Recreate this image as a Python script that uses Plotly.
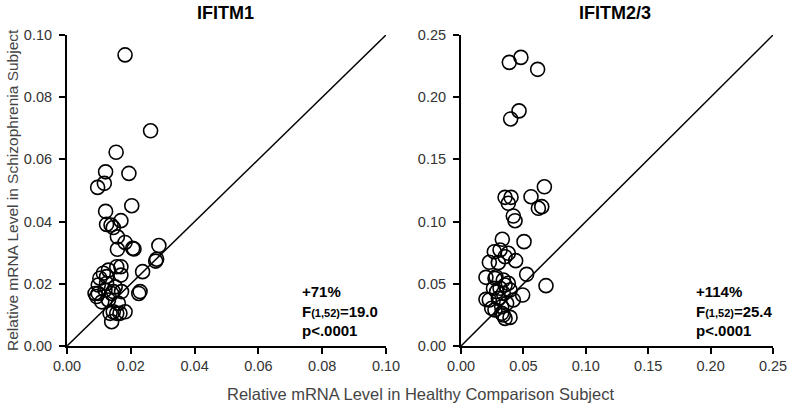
import plotly.graph_objects as go

# IFITM1 (healthy comparison, schizophrenia)
healthy_ifitm1 = [0.0182, 0.0262, 0.0154, 0.0121, 0.0194, 0.0096, 0.0117, 0.0203, 0.0121, 0.0169,
                  0.0124, 0.0138, 0.0145, 0.0158, 0.0182, 0.0158, 0.0206, 0.0210, 0.0288, 0.0281,
                  0.0278, 0.0237, 0.0156, 0.0169, 0.0114, 0.0130, 0.0169, 0.0103, 0.0124, 0.0124,
                  0.0098, 0.0151, 0.0229, 0.0225, 0.0088, 0.0098, 0.0119, 0.0145, 0.0171, 0.0109,
                  0.0161, 0.0130, 0.0135, 0.0145, 0.0156, 0.0182, 0.0140, 0.0166, 0.0093, 0.0140]
schizo_ifitm1 = [0.0936, 0.0692, 0.0623, 0.0560, 0.0555, 0.0510, 0.0523, 0.0451, 0.0433, 0.0403,
                 0.0391, 0.0389, 0.0381, 0.0351, 0.0333, 0.0311, 0.0314, 0.0312, 0.0323, 0.0279,
                 0.0273, 0.0239, 0.0255, 0.0255, 0.0234, 0.0244, 0.0228, 0.0218, 0.0223, 0.0201,
                 0.0196, 0.0190, 0.0175, 0.0169, 0.0169, 0.0169, 0.0180, 0.0175, 0.0175, 0.0142,
                 0.0137, 0.0148, 0.0105, 0.0110, 0.0105, 0.0110, 0.0078, 0.0105, 0.0159, 0.0169]

# IFITM2/3
healthy_ifitm23 = [0.0387, 0.0480, 0.0614, 0.0465, 0.0398, 0.0668, 0.0561, 0.0353, 0.0401, 0.0379,
                   0.0620, 0.0647, 0.0419, 0.0433, 0.0331, 0.0505, 0.0267, 0.0313, 0.0379, 0.0353,
                   0.0227, 0.0299, 0.0438, 0.0526, 0.0200, 0.0280, 0.0681, 0.0494, 0.0200, 0.0227,
                   0.0419, 0.0272, 0.0353, 0.0393, 0.0326, 0.0313, 0.0353, 0.0379, 0.0286, 0.0339,
                   0.0299, 0.0366, 0.0326, 0.0260, 0.0393, 0.0339, 0.0272, 0.0339, 0.0246]
schizo_ifitm23 = [0.2280, 0.2320, 0.2224, 0.1890, 0.1825, 0.1280, 0.1200, 0.1195, 0.1195, 0.1147,
                  0.1107, 0.1120, 0.1045, 0.1007, 0.0858, 0.0839, 0.0758, 0.0772, 0.0745, 0.0718,
                  0.0673, 0.0670, 0.0686, 0.0576, 0.0552, 0.0557, 0.0485, 0.0410, 0.0375, 0.0370,
                  0.0370, 0.0290, 0.0222, 0.0230, 0.0263, 0.0464, 0.0490, 0.0504, 0.0437, 0.0424,
                  0.0383, 0.0343, 0.0316, 0.0464, 0.0450, 0.0530, 0.0544, 0.0249, 0.0303]

range1 = [0, 0.10]
range23 = [0, 0.25]
ticks1 = [0, 0.02, 0.04, 0.06, 0.08, 0.10]
ticks23 = [0, 0.05, 0.10, 0.15, 0.20, 0.25]

W, H = 800, 407
FONT = "Arial, Liberation Sans, sans-serif"

fig = go.Figure()

marker = dict(symbol="circle-open", size=14, color="black", line=dict(width=1.6, color="black"))

fig.add_trace(go.Scatter(x=range1, y=range1, mode="lines", line=dict(color="black", width=1.5),
                         xaxis="x", yaxis="y", showlegend=False, hoverinfo="skip"))
fig.add_trace(go.Scatter(x=healthy_ifitm1, y=schizo_ifitm1, mode="markers", marker=marker,
                         xaxis="x", yaxis="y", showlegend=False))
fig.add_trace(go.Scatter(x=range23, y=range23, mode="lines", line=dict(color="black", width=1.5),
                         xaxis="x2", yaxis="y2", showlegend=False, hoverinfo="skip"))
fig.add_trace(go.Scatter(x=healthy_ifitm23, y=schizo_ifitm23, mode="markers", marker=marker,
                         xaxis="x2", yaxis="y2", showlegend=False))

ydom = [(H - 346) / H, (H - 35) / H]
axis_common = dict(showline=True, linecolor="black", linewidth=2, ticks="outside", ticklen=6,
                   tickwidth=1.5, tickcolor="black", showgrid=False, zeroline=False,
                   automargin=False, tickformat=".2f",
                   tickfont=dict(family=FONT, size=14.5, color="#333333"))

fig.update_layout(
    width=W, height=H,
    margin=dict(l=0, r=0, t=0, b=0, pad=0, autoexpand=False),
    paper_bgcolor="white", plot_bgcolor="white",
    xaxis=dict(domain=[67 / W, 386 / W], range=range1, tickvals=ticks1, anchor="y", **axis_common),
    yaxis=dict(domain=ydom, range=range1, tickvals=ticks1, anchor="x", ticklabelstandoff=4,
               **axis_common),
    xaxis2=dict(domain=[461 / W, 773 / W], range=range23, tickvals=ticks23, anchor="y2", **axis_common),
    yaxis2=dict(domain=ydom, range=range23, tickvals=ticks23, anchor="x2", ticklabelstandoff=4,
                **axis_common),
)

def py(pix):
    return 1 - pix / H

ann = []
ann.append(dict(text="<b>IFITM1</b>", x=225 / W, y=py(13), xref="paper", yref="paper",
                xanchor="center", yanchor="middle", showarrow=False,
                font=dict(family=FONT, size=18, color="black")))
ann.append(dict(text="<b>IFITM2/3</b>", x=615 / W, y=py(13), xref="paper", yref="paper",
                xanchor="center", yanchor="middle", showarrow=False,
                font=dict(family=FONT, size=18, color="black")))
ann.append(dict(text="Relative mRNA Level in Healthy Comparison Subject", x=420 / W, y=py(394),
                xref="paper", yref="paper", xanchor="center", yanchor="middle", showarrow=False,
                font=dict(family=FONT, size=16.5, color="#444444")))
ann.append(dict(text="Relative mRNA Level in Schizophrenia Subject", x=12 / W, y=py(190),
                xref="paper", yref="paper", xanchor="center", yanchor="middle",
                showarrow=False, textangle=-90,
                font=dict(family=FONT, size=15.5, color="#444444")))
stat1 = ("<b>+71%</b><br><b>F<span style='font-size:11px'>(1,52)</span>=19.0</b><br><b>p&lt;.0001</b>")
stat2 = ("<b>+114%</b><br><b>F<span style='font-size:11px'>(1,52)</span>=25.4</b><br><b>p&lt;.0001</b>")
ann.append(dict(text=stat1, x=300 / W, y=py(311), xref="paper", yref="paper", showarrow=False,
                xanchor="left", yanchor="middle", align="left",
                font=dict(family=FONT, size=15, color="black")))
ann.append(dict(text=stat2, x=694 / W, y=py(311), xref="paper", yref="paper", showarrow=False,
                xanchor="left", yanchor="middle", align="left",
                font=dict(family=FONT, size=15, color="black")))
fig.update_layout(annotations=ann)

fig.write_html("out.html", config={"displayModeBar": False},
               post_script="document.body.style.margin='0px';")
